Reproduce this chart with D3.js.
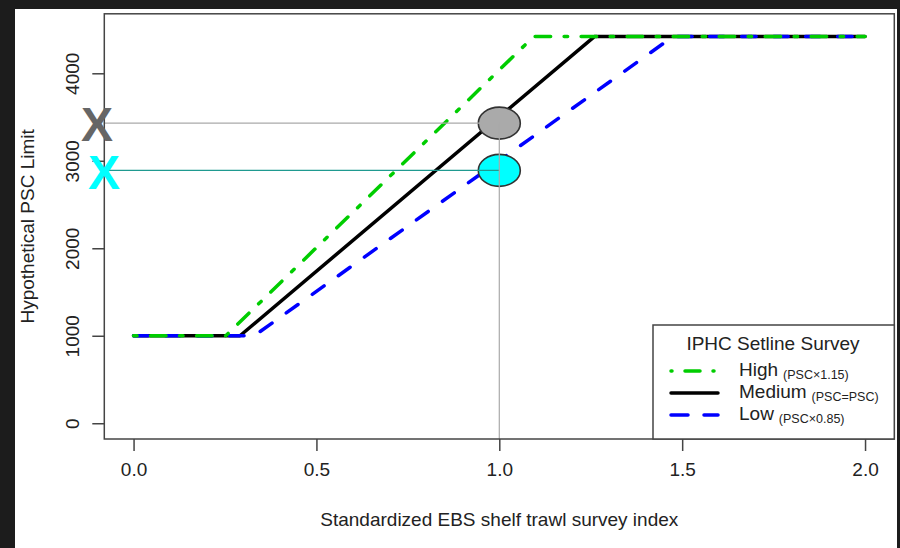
<!DOCTYPE html>
<html><head><meta charset="utf-8">
<script src="https://cdn.jsdelivr.net/npm/d3@7/dist/d3.min.js"></script>
<style>html,body{margin:0;padding:0;background:#1c1c1c;}svg{display:block;}</style>
</head><body>
<svg id="chart" width="900" height="548"></svg>
<script>
// ---- data ----
const xTicks = [0, 0.5, 1, 1.5, 2];
const xTickLabels = ["0.0", "0.5", "1.0", "1.5", "2.0"];
const yTicks = [0, 1000, 2000, 3000, 4000];
const yTickLabels = ["0", "1000", "2000", "3000", "4000"];
const highX = [0, 0.252, 1.094, 2];
const highY = [1000, 1000, 4420, 4420];
const medX = [0, 0.291, 1.26, 2];
const medY = [1000, 1000, 4420, 4420];
const lowX = [0, 0.33, 1.475, 2];
const lowY = [1000, 1000, 4420, 4420];
const pointX = 1.0;
const greyY = 3430;
const cyanY = 2890;
const legendTitle = "IPHC Setline Survey";
const legendNames = ["High", "Medium", "Low"];
const legendNotes = ["(PSC\u00d71.15)", "(PSC=PSC)", "(PSC\u00d70.85)"];

const svg = d3.select("#chart");
const font = "'Liberation Sans', Arial, sans-serif";
svg.append("rect").attr("x", 15).attr("y", 9).attr("width", 882).attr("height", 539).attr("fill", "#fff");

const L = 104.3, R = 894.3, T = 13.8, B = 439;
const x = d3.scaleLinear().domain([-0.08, 2.08]).range([L, R]);
const y = d3.scaleLinear().domain([-180, 4680]).range([B, T]);

const line = d3.line().x(d => x(d[0])).y(d => y(d[1]));
const high = {xs: highX, ys: highY, color: "#00cd00", dash: "3.5,13.5,15.5,13.5", lgDash: "1,13,15,13"};
const med = {xs: medX, ys: medY, color: "#000", dash: null, lgDash: null};
const low = {xs: lowX, ys: lowY, color: "#0000ff", dash: "14.5,17.5", lgDash: "17,16"};
[med, low, high].forEach(s => {
  svg.append("path").datum(d3.zip(s.xs, s.ys)).attr("d", line)
    .attr("fill", "none").attr("stroke", s.color).attr("stroke-width", 3.5)
    .attr("stroke-linecap", "round").attr("stroke-linejoin", "round")
    .attr("stroke-dasharray", s.dash);
});

// points
svg.append("ellipse").attr("cx", x(pointX)).attr("cy", y(greyY)).attr("rx", 21).attr("ry", 16)
  .attr("fill", "#aaaaaa").attr("stroke", "#333").attr("stroke-width", 1.6);
svg.append("ellipse").attr("cx", x(pointX)).attr("cy", y(cyanY)).attr("rx", 21).attr("ry", 16)
  .attr("fill", "#00ffff").attr("stroke", "#333").attr("stroke-width", 1.6);
// reference lines
svg.append("line").attr("x1", L).attr("x2", x(pointX)).attr("y1", y(greyY)).attr("y2", y(greyY))
  .attr("stroke", "#aaaaaa").attr("stroke-width", 1.2);
svg.append("line").attr("x1", L).attr("x2", x(pointX)).attr("y1", y(cyanY)).attr("y2", y(cyanY))
  .attr("stroke", "#1f9a90").attr("stroke-width", 1.2);
svg.append("line").attr("x1", x(pointX)).attr("x2", x(pointX)).attr("y1", y(greyY)).attr("y2", B)
  .attr("stroke", "#aaaaaa").attr("stroke-width", 1.2);

// box
svg.append("rect").attr("x", L).attr("y", T).attr("width", R - L).attr("height", B - T)
  .attr("fill", "none").attr("stroke", "#444").attr("stroke-width", 1.5);

// axes
const xAxis = d3.axisBottom(x).tickValues(xTicks).tickFormat((d, i) => xTickLabels[i]).tickSize(12).tickPadding(12);
const gx = svg.append("g").attr("transform", `translate(0,${B})`).call(xAxis);
gx.select(".domain").remove();
gx.selectAll("line").attr("stroke", "#444").attr("stroke-width", 1.5);
gx.selectAll("text").attr("font-family", font).attr("font-size", 19).attr("fill", "#222");

const yAxis = d3.axisLeft(y).tickValues(yTicks).tickFormat((d, i) => yTickLabels[i]).tickSize(12);
const gy = svg.append("g").attr("transform", `translate(${L},0)`).call(yAxis);
gy.select(".domain").remove();
gy.selectAll("line").attr("stroke", "#444").attr("stroke-width", 1.5);
gy.selectAll("text").attr("font-family", font).attr("font-size", 19).attr("fill", "#222")
  .attr("x", null).attr("dy", null)
  .attr("transform", "translate(-32,0) rotate(-90)")
  .attr("text-anchor", "middle").attr("dominant-baseline", "central");

// X markers
svg.append("text").attr("x", 97).attr("y", y(greyY) + 1).attr("text-anchor", "middle")
  .attr("dominant-baseline", "central").attr("font-family", font).attr("font-weight", "bold")
  .attr("font-size", 48).attr("fill", "#666").text("X");
svg.append("text").attr("x", 104).attr("y", y(cyanY) + 2).attr("text-anchor", "middle")
  .attr("dominant-baseline", "central").attr("font-family", font).attr("font-weight", "bold")
  .attr("font-size", 48).attr("fill", "#00ffff").text("X");

// axis titles
svg.append("text").attr("x", (L + R) / 2).attr("y", 526).attr("text-anchor", "middle")
  .attr("font-family", font).attr("font-size", 19).attr("fill", "#222")
  .text("Standardized EBS shelf trawl survey index");
svg.append("text").attr("transform", `translate(34,${(T + B) / 2}) rotate(-90)`).attr("text-anchor", "middle")
  .attr("font-family", font).attr("font-size", 19).attr("fill", "#222").text("Hypothetical PSC Limit");

// legend
const lg = svg.append("g");
lg.append("rect").attr("x", 653).attr("y", 325).attr("width", R - 653).attr("height", B - 325)
  .attr("fill", "#fff").attr("stroke", "#444").attr("stroke-width", 1.5);
lg.append("text").attr("x", 773).attr("y", 350).attr("text-anchor", "middle")
  .attr("font-family", font).attr("font-size", 19).attr("fill", "#222").text(legendTitle);
const lgY = [371, 393, 415];
[high, med, low].forEach((s, i) => {
  lg.append("line").attr("x1", 671).attr("x2", 718).attr("y1", lgY[i]).attr("y2", lgY[i])
    .attr("stroke", s.color).attr("stroke-width", 3.5).attr("stroke-linecap", "round")
    .attr("stroke-dasharray", s.lgDash);
  const t = lg.append("text").attr("x", 739).attr("y", lgY[i] + 5)
    .attr("font-family", font).attr("font-size", 19).attr("fill", "#222");
  t.append("tspan").text(legendNames[i]);
  t.append("tspan").attr("font-size", 12.5).attr("dx", 5).attr("dy", 3).text(legendNotes[i]);
});
</script>
</body></html>
